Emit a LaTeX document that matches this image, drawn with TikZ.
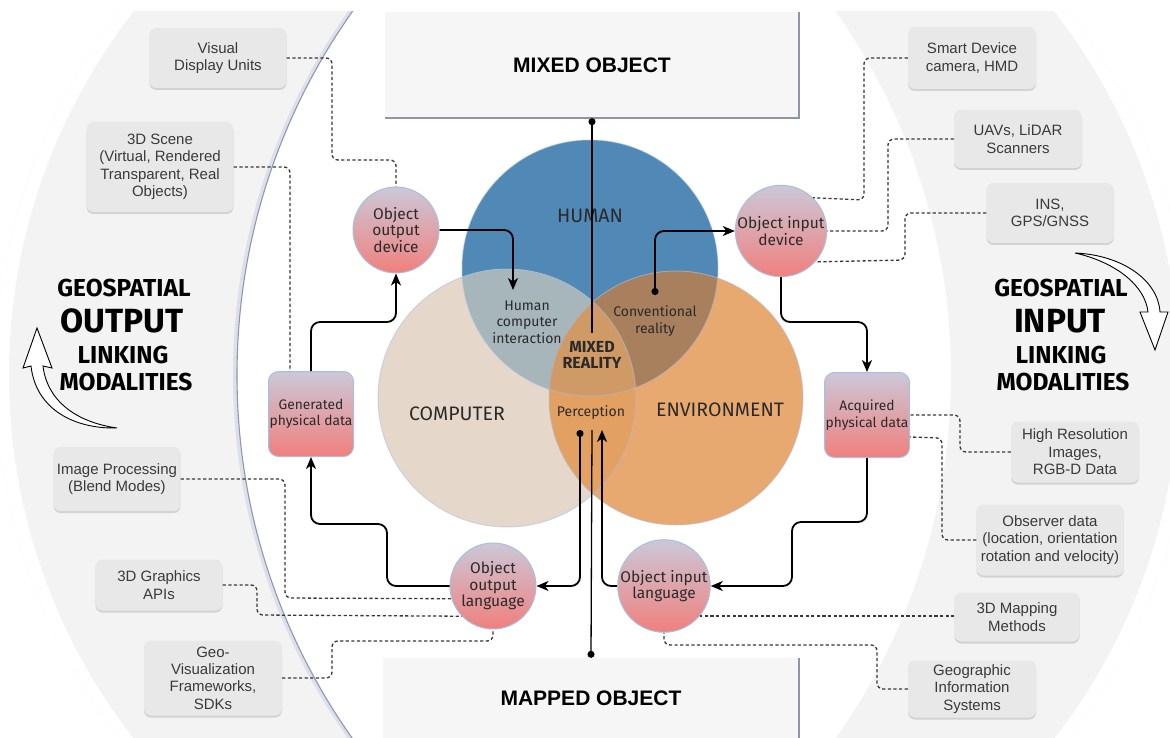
\documentclass[tikz,border=0pt]{standalone}
\usepackage{fontspec}
\setmainfont{Liberation Sans}
\newfontfamily\ub{Fira Sans}
\usetikzlibrary{arrows.meta}
\definecolor{bggray}{HTML}{F3F3F3}
\definecolor{arcline}{HTML}{8E97B3}
\definecolor{arcsoft}{HTML}{DDE0E9}
\definecolor{boxgray}{HTML}{E8E8E8}
\definecolor{boxshadow}{HTML}{D2D2D2}
\definecolor{txtgray}{HTML}{3A3A3A}
\definecolor{humanc}{HTML}{5089B5}
\definecolor{compc}{HTML}{E5D8CB}
\definecolor{envc}{HTML}{E8A970}
\definecolor{hcc}{HTML}{A7B6BB}
\definecolor{hec}{HTML}{A8805E}
\definecolor{cec}{HTML}{E3A063}
\definecolor{hcec}{HTML}{D09A66}
\definecolor{ctop}{HTML}{CBC8D8}
\definecolor{cbot}{HTML}{F0807D}
\definecolor{cedge}{HTML}{A9BFDF}
\definecolor{objfill}{HTML}{F6F6F6}
\definecolor{objline}{HTML}{8D94AB}
\definecolor{dashc}{HTML}{383838}
\definecolor{venntxt}{HTML}{2A2A2A}
\tikzset{
  gbox/.style={rectangle, rounded corners=7pt, fill=boxgray, align=center, text=txtgray,
    font=\fontsize{15}{17.4}\selectfont, inner sep=0pt,
    preaction={fill=boxshadow, transform canvas={yshift=-2pt}}},
  cnode/.style={circle, minimum size=86pt, inner sep=0pt, top color=ctop, bottom color=cbot,
    draw=cedge, line width=1pt, align=center, text=venntxt, font=\ub\fontsize{15.5}{16.5}\selectfont},
  cbox/.style={rectangle, rounded corners=10pt, minimum width=85pt, minimum height=85pt, inner sep=0pt,
    top color=ctop, bottom color=cbot, draw=cedge, line width=1pt, align=center, text=venntxt,
    font=\ub\fontsize{13.8}{16.5}\selectfont},
  objbox/.style={rectangle, fill=objfill, inner sep=0pt, font=\bfseries\fontsize{21}{24}\selectfont},
  vlab/.style={inner sep=0pt, text=venntxt, font=\ub\fontsize{19.5}{22}\selectfont},
  slab/.style={inner sep=0pt, align=center, text=venntxt, font=\ub\fontsize{14}{16.3}\selectfont},
  hdr/.style={inner sep=0pt, text=black, font=\ub\bfseries\fontsize{24.5}{26}\selectfont},
  hdrbig/.style={inner sep=0pt, text=black, font=\ub\bfseries\fontsize{33.5}{34}\selectfont},
  flow/.style={draw, line width=1.8pt, rounded corners=9pt, arrows={-Stealth[length=12pt,width=10pt,inset=3.5pt]}},
  dflow/.style={flow, arrows={Circle[length=7pt]-Stealth[length=12pt,width=10pt,inset=3.5pt]}},
  plainline/.style={draw, line width=1.3pt, arrows={Circle[length=7pt]-}},
  dline/.style={draw=dashc, line width=1.3pt, dash pattern=on 3.2pt off 2.4pt, rounded corners=6pt},
  venn/.style={circle, inner sep=0pt, draw=none}
}
\begin{document}
\begin{tikzpicture}[x=1pt,y=-1pt]
\useasboundingbox (0,0) rectangle (1170,738);
\fill[white] (0,0) rectangle (1170,738);
% background crescents
\begin{scope}
  \clip (0,12) rectangle (1170,745);
  \begin{scope}
    \clip (601,375) circle (592pt);
    \fill[bggray, even odd rule] (601,375) circle (592pt) (867,375) circle (630pt);
  \end{scope}
  \begin{scope}
    \clip (587,375) circle (592pt);
    \fill[bggray, even odd rule] (587,375) circle (592pt) (321,375) circle (630pt);
  \end{scope}
\end{scope}
\begin{scope}
  \clip (0,12) rectangle (600,745);
  \draw[arcsoft, line width=4pt] (865,375) circle (630pt);
  \draw[arcline, line width=1.1pt] (867,375) circle (630pt);
\end{scope}

% hollow curved arrows
\draw[line width=0.9pt, fill=white] (37,328) -- (52,368) -- (43,366)
  .. controls (47,400) and (75,422) .. (117,428)
  .. controls (75,429) and (36,410) .. (31,366) -- (23,368) -- cycle;
\draw[line width=0.9pt, fill=white] (1155,350) -- (1140,312) -- (1148,312)
  .. controls (1145,285) and (1115,262) .. (1075,253)
  .. controls (1122,255) and (1158,280) .. (1160,312) -- (1168,312) -- cycle;

% headers
\node[hdr] (go1) at (124,288) {GEOSPATIAL};
\node[hdrbig] (go2) at (122,321) {OUTPUT};
\node[hdr] (go3) at (123,355) {LINKING};
\node[hdr] (go4) at (126,382) {MODALITIES};
\node[hdr] (gi1) at (1061,288) {GEOSPATIAL};
\node[hdrbig] (gi2) at (1060,321) {INPUT};
\node[hdr] (gi3) at (1061,355) {LINKING};
\node[hdr] (gi4) at (1063,382) {MODALITIES};

% object boxes
\node[objbox, minimum width=414pt, minimum height=106pt] (mo) at (592,65) {MIXED OBJECT};
\draw[objline, line width=1.5pt] (mo.south west) -- (mo.south east) -- (mo.north east);
\node[objbox, minimum width=416pt, minimum height=80pt] (mapped) at (591,698) {MAPPED OBJECT};
\draw[objline, line width=1.5pt] (mapped.north east) -- (mapped.south east);

% Venn
\node[venn, minimum size=256pt, fill=humanc] (hum) at (590,268) {};
\node[venn, minimum size=258pt, fill=compc] (com) at (507,398) {};
\node[venn, minimum size=254pt, fill=envc] (env) at (676,398) {};
\begin{scope}\clip (590,268) circle (128pt); \fill[hcc] (507,398) circle (129pt); \end{scope}
\begin{scope}\clip (590,268) circle (128pt); \fill[hec] (676,398) circle (127pt); \end{scope}
\begin{scope}\clip (507,398) circle (129pt); \fill[cec] (676,398) circle (127pt); \end{scope}
\begin{scope}\clip (590,268) circle (128pt); \clip (507,398) circle (129pt); \fill[hcec] (676,398) circle (127pt); \end{scope}
\draw[cedge, opacity=0.5, line width=1pt] (590,268) circle (128pt) (507,398) circle (129pt) (676,398) circle (127pt);

\node[vlab] (lhum) at (590,216) {HUMAN};
\node[vlab] (lcom) at (457,414) {COMPUTER};
\node[vlab] (lenv) at (720,410) {ENVIRONMENT};
\node[slab] (lhci) at (527,322) {Human\\computer\\interaction};
\node[slab] (lcr) at (655,321) {Conventional\\reality};
\node[slab, font=\ub\bfseries\fontsize{16}{16.5}\selectfont] (lmr) at (592,355) {MIXED\\REALITY};
\node[slab] (lper) at (591,413) {Perception};

% coloured nodes
\node[cnode] (ood) at (396,230) {Object\\output\\device};
\node[cnode] (oid) at (781,231) {Object input\\device};
\node[cnode] (ool) at (493,586) {Object\\output\\language};
\node[cnode] (oil) at (664,586) {Object input\\language};
\node[cbox] (gpd) at (311,414) {Generated\\physical data};
\node[cbox] (apd) at (867,415) {Acquired\\physical data};

% gray info boxes
\node[gbox, minimum width=137pt, minimum height=60pt] (vdu) at (218,58) {Visual\\Display Units};
\node[gbox, minimum width=147pt, minimum height=90pt] (scene) at (160,167) {3D Scene\\(Virtual, Rendered\\Transparent, Real\\Objects)};
\node[gbox, minimum width=127pt, minimum height=64pt] (imgp) at (117,479) {Image Processing\\(Blend Modes)};
\node[gbox, minimum width=127pt, minimum height=51pt] (api) at (159,585) {3D Graphics\\APIs};
\node[gbox, minimum width=138pt, minimum height=75pt] (geov) at (213,678) {Geo-\\Visualization\\Frameworks,\\SDKs};
\node[gbox, minimum width=128pt, minimum height=62pt] (smart) at (972,58) {Smart Device\\camera, HMD};
\node[gbox, minimum width=128pt, minimum height=58pt] (uav) at (1018,139) {UAVs, LiDAR\\Scanners};
\node[gbox, minimum width=127pt, minimum height=60pt] (ins) at (1050,213) {INS,\\GPS/GNSS};
\node[gbox, minimum width=128pt, minimum height=61pt] (hires) at (1075,452) {High Resolution\\Images,\\RGB-D Data};
\node[gbox, minimum width=147pt, minimum height=71pt] (obs) at (1050,540) {Observer data\\(location, orientation\\rotation and velocity)};
\node[gbox, minimum width=125pt, minimum height=49pt] (map3d) at (1017,617) {3D Mapping\\Methods};
\node[gbox, minimum width=128pt, minimum height=57pt] (gis) at (972,689) {Geographic\\Information\\Systems};

% coordinates
\coordinate (hcitip) at (513,290);
\coordinate (crdot) at (655,295);
\coordinate (percdot) at (580,430);
\coordinate (perctip) at (602,430);
\coordinate (mrtop) at (592,333);
\coordinate (mapline) at (592,430);

% dashed connectors
\draw[dline] (vdu.east) -| (332,160) -| (ood.north);
\draw[dline] (scene.east) -| ([xshift=-21pt]gpd.north);
\draw[dline] (imgp.east) -| (285,598) -- (ool.197);
\draw[dline] (api.east) -| (257,615) -- (ool.224);
\draw[dline] (geov.east) -| (332,641) -| (ool.south);
\draw[dline] (smart.west) -| (864,200) -- (oid.46);
\draw[dline] (uav.west) -| (888,231) -- (oid.east);
\draw[dline] (ins.west) -| (905,260) -- (oid.-42);
\draw[dline] (hires.west) -| (960,415) -- (apd.east);
\draw[dline] (obs.west) -| (942,438) -- ([yshift=-22pt]apd.east);
\draw[dline] (map3d.west |- oil.-40) -- (oil.-40);
\draw[dline] (gis.west) -| (877,645) -| (oil.south);

% flow arrows
\draw[flow] (ood.east) -| (hcitip);
\draw[dflow] (crdot) |- (oid.west);
\draw[flow] (oid.south) -- (781,322) -| (apd.north);
\draw[flow] (apd.south) -- (867,522) -| (792,586) -- (oil.east);
\draw[flow] (oil.west) -| (perctip);
\draw[dflow] (percdot) |- (ool.east);
\draw[flow] (ool.west) -| (387,524) -| (gpd.south);
\draw[flow] (gpd.north) -- (311,322) -| (ood.south);
\draw[plainline] (mo.south) -- (mrtop);
\draw[plainline] (mapped.north) -- (mapline);
\end{tikzpicture}
\end{document}
